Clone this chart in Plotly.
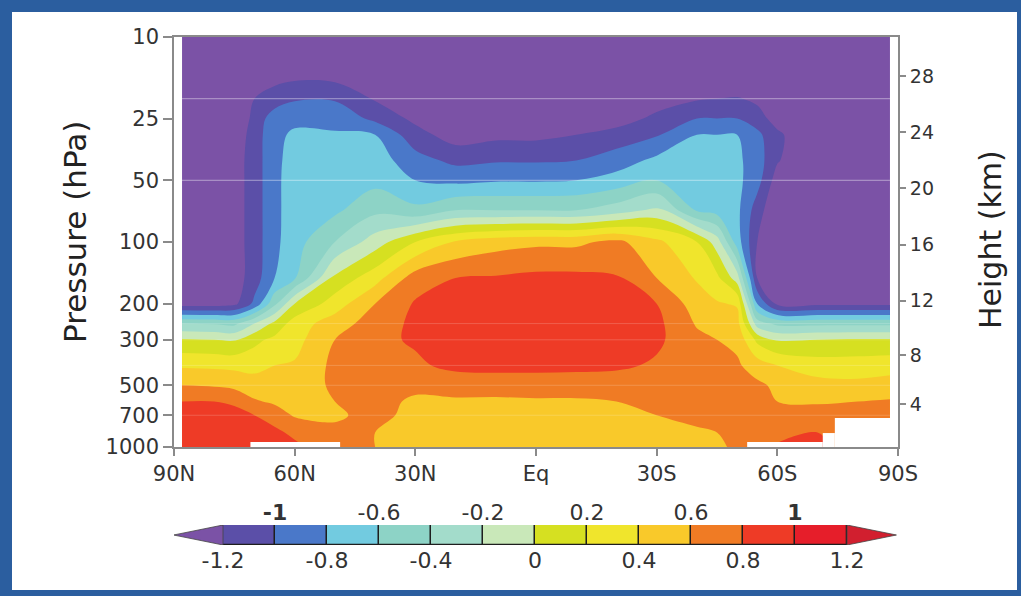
import numpy as np
import plotly.graph_objects as go

# ---------------- data ----------------
latitudes = [88, 80, 75, 70, 65, 60, 50, 40, 30, 20, 10, 0, -10, -20, -30, -40, -45, -50, -55, -60, -70, -80, -88]
pressure_levels = [10, 15, 20, 25, 30, 40, 50, 70, 100, 150, 200, 250, 300, 400, 500, 600, 700, 850, 1000]

# temperature trend profiles, one per latitude, from 10 hPa down to 1000 hPa
trend_88n = [-1.6, -1.6, -1.6, -1.6, -1.6, -1.6, -1.6, -1.6, -1.6, -1.5, -1.3, -0.4, 0.02, 0.37, 0.6, 0.8, 0.92, 0.97, 0.98]
trend_80n = [-1.6, -1.6, -1.6, -1.6, -1.6, -1.6, -1.6, -1.6, -1.6, -1.5, -1.3, -0.42, 0.0, 0.36, 0.58, 0.8, 0.9, 0.96, 0.97]
trend_75n = [-1.6, -1.55, -1.5, -1.45, -1.35, -1.3, -1.3, -1.3, -1.3, -1.3, -1.25, -0.45, -0.02, 0.35, 0.55, 0.76, 0.88, 0.94, 0.95]
trend_70n = [-1.6, -1.45, -1.2, -1.12, -1.1, -1.1, -1.1, -1.1, -1.1, -1.1, -0.95, -0.2, 0.15, 0.33, 0.5, 0.62, 0.8, 0.9, 0.92]
trend_65n = [-1.6, -1.3, -1.1, -0.9, -0.86, -0.85, -0.85, -0.85, -0.85, -0.8, -0.45, 0.05, 0.25, 0.4, 0.5, 0.57, 0.7, 0.85, 0.9]
trend_60n = [-1.6, -1.28, -1.02, -0.86, -0.76, -0.72, -0.7, -0.7, -0.68, -0.62, 0.0, 0.3, 0.33, 0.42, 0.5, 0.55, 0.58, 0.75, 0.85]
trend_50n = [-1.6, -1.3, -1.02, -0.86, -0.78, -0.72, -0.68, -0.64, -0.4, 0.05, 0.3, 0.5, 0.6, 0.65, 0.63, 0.6, 0.58, 0.63, 0.66]
trend_40n = [-1.6, -1.45, -1.22, -1.05, -0.8, -0.7, -0.66, -0.45, -0.1, 0.32, 0.6, 0.7, 0.74, 0.72, 0.68, 0.64, 0.64, 0.6, 0.6]
trend_30n = [-1.7, -1.6, -1.45, -1.25, -1.12, -0.92, -0.8, -0.55, 0.2, 0.7, 0.82, 0.84, 0.83, 0.76, 0.63, 0.58, 0.56, 0.55, 0.55]
trend_20n = [-1.8, -1.7, -1.6, -1.45, -1.3, -1.05, -0.85, -0.4, 0.42, 0.8, 0.9, 0.92, 0.9, 0.86, 0.66, 0.58, 0.56, 0.55, 0.55]
trend_10n = [-1.8, -1.75, -1.65, -1.45, -1.25, -1.02, -0.82, -0.4, 0.52, 0.82, 0.93, 0.95, 0.93, 0.87, 0.68, 0.57, 0.55, 0.53, 0.52]
trend_eq = [-1.8, -1.75, -1.65, -1.45, -1.25, -1.02, -0.82, -0.4, 0.56, 0.85, 0.95, 0.96, 0.94, 0.87, 0.68, 0.58, 0.55, 0.53, 0.52]
trend_10s = [-1.8, -1.75, -1.6, -1.4, -1.2, -1.0, -0.8, -0.4, 0.56, 0.85, 0.95, 0.95, 0.93, 0.86, 0.68, 0.58, 0.55, 0.53, 0.52]
trend_20s = [-1.8, -1.7, -1.45, -1.3, -1.12, -0.9, -0.72, -0.3, 0.65, 0.82, 0.9, 0.92, 0.92, 0.84, 0.68, 0.6, 0.56, 0.53, 0.52]
trend_30s = [-1.8, -1.55, -1.3, -1.15, -1.02, -0.75, -0.6, -0.15, 0.45, 0.6, 0.8, 0.85, 0.84, 0.77, 0.66, 0.62, 0.6, 0.56, 0.55]
trend_40s = [-1.7, -1.45, -1.22, -1.0, -0.8, -0.72, -0.7, -0.62, 0.2, 0.38, 0.5, 0.58, 0.65, 0.7, 0.7, 0.68, 0.64, 0.58, 0.55]
trend_45s = [-1.7, -1.45, -1.2, -1.0, -0.8, -0.75, -0.72, -0.68, -0.1, 0.25, 0.42, 0.52, 0.6, 0.68, 0.7, 0.7, 0.66, 0.6, 0.58]
trend_50s = [-1.7, -1.5, -1.18, -1.0, -0.8, -0.76, -0.75, -0.75, -0.7, -0.1, 0.38, 0.48, 0.55, 0.63, 0.66, 0.66, 0.66, 0.65, 0.62]
trend_55s = [-1.7, -1.55, -1.25, -1.1, -0.95, -0.9, -0.92, -1.1, -1.2, -1.2, -0.8, -0.3, 0.15, 0.5, 0.64, 0.66, 0.68, 0.72, 0.75]
trend_60s = [-1.7, -1.6, -1.45, -1.3, -1.15, -1.18, -1.3, -1.4, -1.4, -1.4, -1.25, -0.45, -0.02, 0.4, 0.56, 0.6, 0.7, 0.75, 0.82]
trend_70s = [-1.7, -1.65, -1.6, -1.5, -1.45, -1.45, -1.45, -1.45, -1.45, -1.4, -1.25, -0.45, 0.0, 0.3, 0.47, 0.58, 0.68, 0.8, 0.85]
trend_80s = [-1.6, -1.6, -1.6, -1.55, -1.5, -1.5, -1.5, -1.5, -1.5, -1.45, -1.25, -0.45, 0.02, 0.3, 0.45, 0.6, 0.7, 0.7, 0.7]
trend_88s = [-1.6, -1.6, -1.6, -1.55, -1.5, -1.5, -1.5, -1.5, -1.5, -1.45, -1.25, -0.45, 0.02, 0.32, 0.48, 0.62, 0.75, 0.75, 0.75]

profiles = [trend_88n, trend_80n, trend_75n, trend_70n, trend_65n, trend_60n, trend_50n, trend_40n,
            trend_30n, trend_20n, trend_10n, trend_eq, trend_10s, trend_20s, trend_30s, trend_40s,
            trend_45s, trend_50s, trend_55s, trend_60s, trend_70s, trend_80s, trend_88s]

# surface (no data) segments: latitude start, latitude end, surface pressure
surface_lat_start = [71.0, -52.5, -71.3, -74.3]
surface_lat_end = [48.7, -71.3, -74.3, -90.0]
surface_pressure = [945, 945, 855, 722]

# axes
lat_ticks = [90, 60, 30, 0, -30, -60, -90]
lat_labels = ['90N', '60N', '30N', 'Eq', '30S', '60S', '90S']
pressure_ticks = [10, 25, 50, 100, 200, 300, 500, 700, 1000]
height_ticks_km = [4, 8, 12, 16, 20, 24, 28]

# contour levels / colours
levels = [-1.2, -1.0, -0.8, -0.6, -0.4, -0.2, 0.0, 0.2, 0.4, 0.6, 0.8, 1.0, 1.2]
level_colors = ['#7b52a6', '#5b4fa8', '#4a78c9', '#72cbe0', '#8dd3c6', '#a3dccb', '#c9e8b9',
                '#d6e021', '#f0e52c', '#f9c92a', '#f07b24', '#ee3b26', '#e61e2a', '#d11f2f']
cbar_labels_bottom = [-1.2, -0.8, -0.4, 0, 0.4, 0.8, 1.2]
cbar_labels_top = [-1, -0.6, -0.2, 0.2, 0.6, 1]

# ---------------- build ----------------
z = np.array(profiles).T  # rows = pressure, cols = latitude


def std_pressure(h_km):
    if h_km <= 11:
        return 1013.25 * (1 - 0.0065 * h_km * 1000 / 288.15) ** 5.25588
    return 226.32 * np.exp(-(h_km - 11) * 1000 / 6341.62)


height_tick_p = [std_pressure(h) for h in height_ticks_km]

n = len(level_colors)
cs = []
for k, c in enumerate(level_colors):
    lo = max(0.0, (k - 0.5) / (n - 1))
    hi = min(1.0, (k + 0.5) / (n - 1))
    cs.append([lo, c])
    cs.append([hi, c])

FONT = 'DejaVu Sans'
TICKC = '#333333'
LINEC = '#8a8a8a'

# pixel geometry of plotting area
L, R, T, B = 174, 898, 37, 560
W, H = R - L, B - T


def px(xp):
    return (xp - L) / W


def py(yp):
    return (B - yp) / H


fig = go.Figure()

fig.add_trace(go.Contour(
    x=latitudes, y=pressure_levels, z=z,
    colorscale=cs, showscale=False,
    contours=dict(start=levels[0], end=levels[-1], size=0.2, coloring='fill', showlines=False),
    line=dict(smoothing=1.0, width=0),
    hoverinfo='skip', xaxis='x', yaxis='y'))

for a, b, p in zip(surface_lat_start, surface_lat_end, surface_pressure):
    fig.add_trace(go.Scatter(
        x=[a, b, b, a, a], y=[p, p, pressure_levels[-1], pressure_levels[-1], p],
        mode='lines', fill='toself', fillcolor='white', line=dict(width=0),
        hoverinfo='skip', showlegend=False, xaxis='x', yaxis='y'))

# invisible trace to activate right axis
fig.add_trace(go.Scatter(x=[0], y=[100], mode='markers', marker=dict(opacity=0),
                         hoverinfo='skip', showlegend=False, xaxis='x', yaxis='y2'))

# ---- colour bar (custom, horizontal, with extension triangles)
mids = [(levels[i] + levels[i + 1]) / 2 for i in range(len(levels) - 1)]
fig.add_trace(go.Bar(
    x=mids, y=[1] * len(mids), base=0, width=0.2,
    marker=dict(color=level_colors[1:-1], line=dict(color='#1e1e1e', width=1.3)),
    hoverinfo='skip', showlegend=False, xaxis='x3', yaxis='y3'))
extend_len = 0.19
fig.add_trace(go.Scatter(
    x=[levels[0], levels[0] - extend_len, levels[0], levels[0]], y=[0, 0.5, 1, 0],
    mode='lines', fill='toself', fillcolor=level_colors[0], line=dict(color='#444', width=0.8),
    hoverinfo='skip', showlegend=False, xaxis='x3', yaxis='y3'))
fig.add_trace(go.Scatter(
    x=[levels[-1], levels[-1] + extend_len, levels[-1], levels[-1]], y=[0, 0.5, 1, 0],
    mode='lines', fill='toself', fillcolor=level_colors[-1], line=dict(color='#444', width=0.8),
    hoverinfo='skip', showlegend=False, xaxis='x3', yaxis='y3'))
fig.add_trace(go.Scatter(x=[0], y=[0.5], mode='markers', marker=dict(opacity=0),
                         hoverinfo='skip', showlegend=False, xaxis='x4', yaxis='y3'))

cb_px_per_unit = (847 - 223) / (levels[-1] - levels[0])
cb_range = [levels[0] - (223 - L) / cb_px_per_unit, levels[-1] + (R - 847) / cb_px_per_unit]


def fmt(v):
    s = '%g' % v
    return '<b>%s</b>' % s if abs(v) == 1 else s


shapes = [dict(type='rect', xref='paper', yref='paper', x0=px(12), x1=px(1017), y0=py(590), y1=py(12),
               fillcolor='white', line=dict(width=0), layer='below')]
# faint horizontal lines present in the original
for p, a in [(20, 0.45), (50, 0.45), (250, 0.18), (300, 0.18), (400, 0.18), (500, 0.18), (700, 0.18)]:
    shapes.append(dict(type='line', xref='x', yref='y', x0=latitudes[0], x1=latitudes[-1], y0=p, y1=p,
                       line=dict(color='rgba(255,255,255,%g)' % a, width=1), layer='above'))

fig.update_layout(
    width=1021, height=596,
    margin=dict(l=L, r=1021 - R, t=T, b=596 - B),
    paper_bgcolor='#2b5e9f', plot_bgcolor='rgba(0,0,0,0)',
    showlegend=False, bargap=0,
    font=dict(family=FONT, color=TICKC),
    xaxis=dict(domain=[0, 1], anchor='y', range=[90, -90], tickvals=lat_ticks, ticktext=lat_labels,
               ticks='outside', ticklen=7, tickcolor=LINEC, tickwidth=1.5,
               showline=True, mirror=True, linecolor=LINEC, linewidth=1.5,
               showgrid=False, zeroline=False, tickfont=dict(family=FONT, size=21, color=TICKC)),
    yaxis=dict(domain=[py(447), 1], anchor='x', type='log', range=[3, 1],
               tickvals=pressure_ticks, ticktext=[str(p) for p in pressure_ticks],
               ticks='outside', ticklen=9, tickcolor=LINEC, tickwidth=1.5,
               showline=True, mirror=True, linecolor=LINEC, linewidth=1.5,
               showgrid=False, zeroline=False, tickfont=dict(family=FONT, size=21, color=TICKC)),
    yaxis2=dict(overlaying='y', side='right', anchor='x', type='log', range=[3, 1],
                tickvals=height_tick_p, ticktext=[str(h) for h in height_ticks_km],
                ticks='outside', ticklen=7, tickcolor=LINEC, tickwidth=1.5,
                showline=False, showgrid=False, zeroline=False,
                tickfont=dict(family=FONT, size=19, color=TICKC)),
    xaxis3=dict(domain=[0, 1], anchor='y3', range=cb_range,
                tickvals=cbar_labels_bottom, ticktext=[fmt(v) for v in cbar_labels_bottom],
                ticks='', showline=False, showgrid=False, zeroline=False,
                tickfont=dict(family=FONT, size=22, color=TICKC)),
    xaxis4=dict(overlaying='x3', anchor='y3', side='top', range=cb_range,
                tickvals=cbar_labels_top, ticktext=[fmt(v) for v in cbar_labels_top],
                ticks='', showline=False, showgrid=False, zeroline=False,
                tickfont=dict(family=FONT, size=22, color=TICKC)),
    yaxis3=dict(domain=[py(545), py(525)], anchor='x3', range=[0, 1], visible=False),
    shapes=shapes,
    annotations=[
        dict(text='Pressure (hPa)', xref='paper', yref='paper', x=px(75), y=py(232),
             textangle=-90, showarrow=False, xanchor='center', yanchor='middle',
             font=dict(family=FONT, size=31, color='#222')),
        dict(text='Height (km)', xref='paper', yref='paper', x=px(990), y=py(240),
             textangle=-90, showarrow=False, xanchor='center', yanchor='middle',
             font=dict(family=FONT, size=30, color='#222')),
    ],
)

fig.write_html('out.html', config={'displayModeBar': False},
               post_script="document.body.style.margin='0px';document.body.style.overflow='hidden';")
